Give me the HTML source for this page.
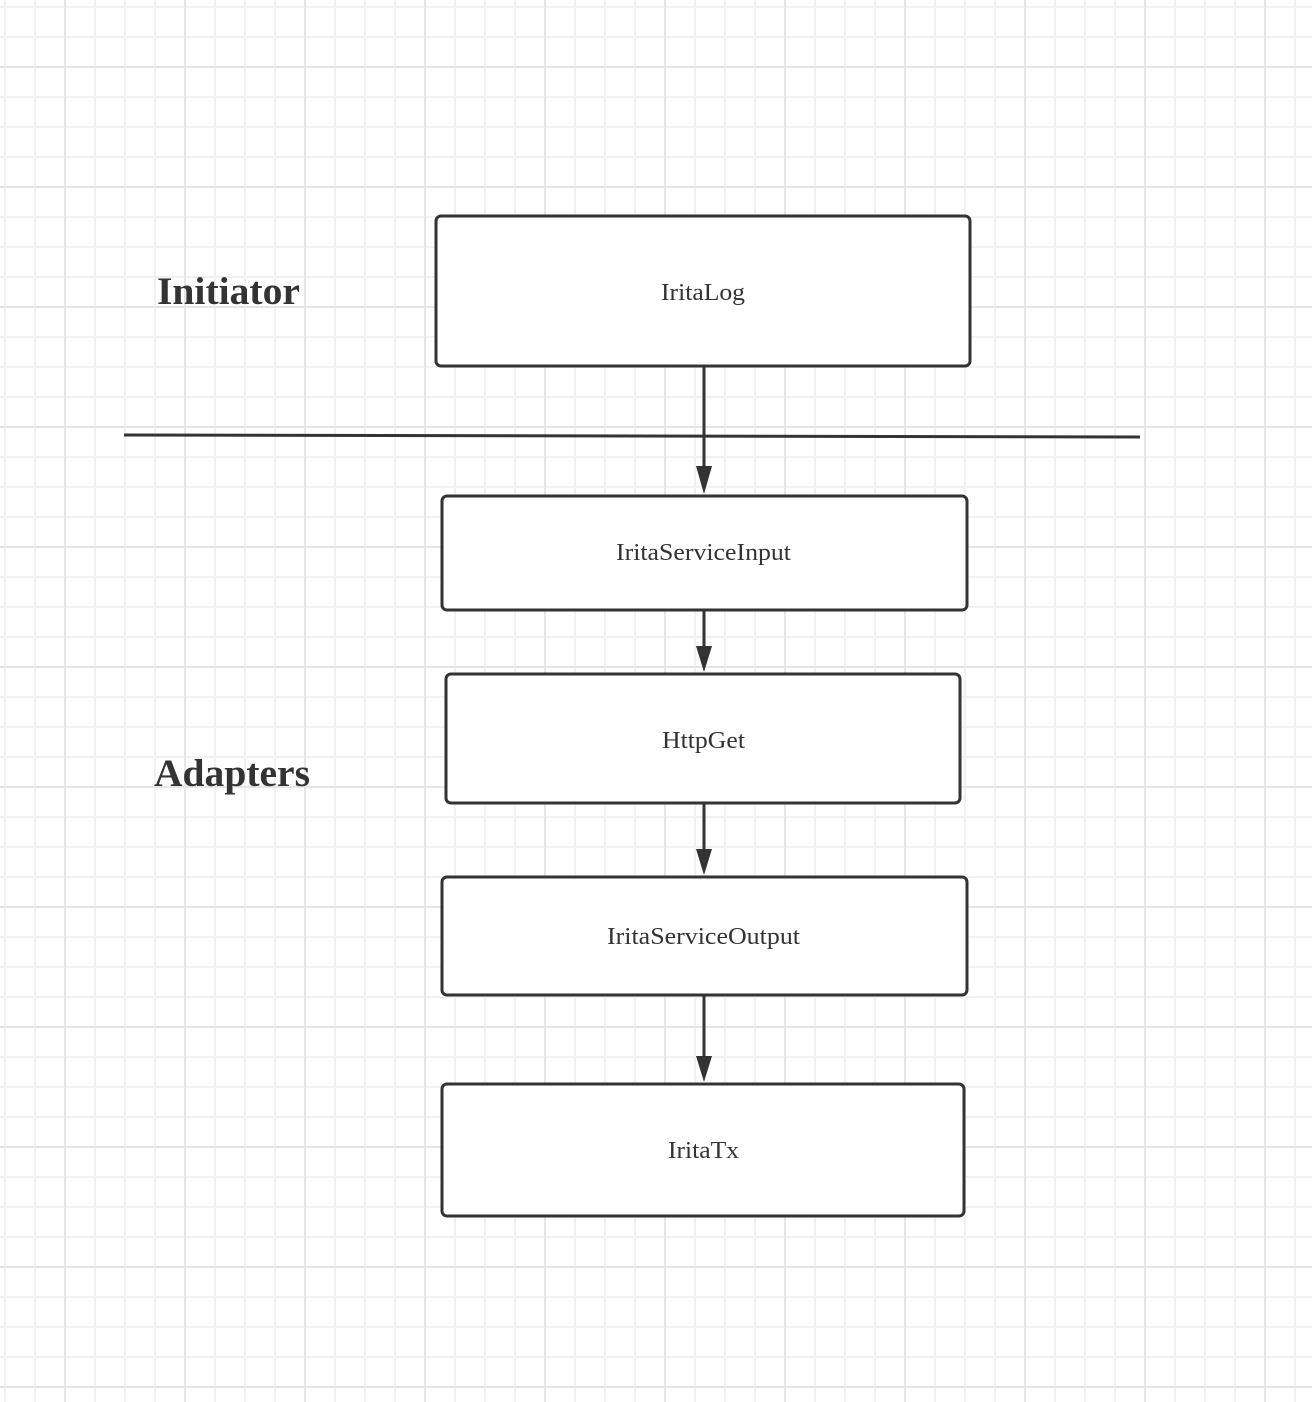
<!DOCTYPE html>
<html><head><style>
html,body{margin:0;padding:0;background:#fff}
body{width:1312px;height:1402px;overflow:hidden;position:relative;
background-image:
linear-gradient(to right,#e6e6e6 2px,transparent 2px),
linear-gradient(to bottom,#e6e6e6 2px,transparent 2px),
linear-gradient(to right,#f1f1f1 2px,transparent 2px),
linear-gradient(to bottom,#f1f1f1 2px,transparent 2px);
background-size:120px 120px,120px 120px,30px 30px,30px 30px;
background-position:64px 0,0 66px,4px 0,0 6px;}
svg{position:absolute;left:0;top:0}
</style></head><body>
<svg width="1312" height="1402" xmlns="http://www.w3.org/2000/svg">
<g fill="#fff" stroke="#333" stroke-width="3">
<rect x="436" y="216" width="534" height="150" rx="5"/>
<rect x="442" y="496" width="525" height="114" rx="5"/>
<rect x="446" y="674" width="514" height="129" rx="5"/>
<rect x="442" y="877" width="525" height="118" rx="5"/>
<rect x="442" y="1084" width="522" height="132" rx="5"/>
</g>
<line x1="124" y1="435" x2="1140" y2="437" stroke="#333" stroke-width="3"/>
<g stroke="#333" stroke-width="3">
<line x1="704" y1="367" x2="704" y2="470"/>
<line x1="704" y1="611" x2="704" y2="648"/>
<line x1="704" y1="804" x2="704" y2="851"/>
<line x1="704" y1="996" x2="704" y2="1058"/>
</g>
<g fill="#333">
<polygon points="696,466 712,466 704,494"/>
<polygon points="696,646 712,646 704,672"/>
<polygon points="696,849 712,849 704,875"/>
<polygon points="696,1056 712,1056 704,1082"/>
</g>
<g font-family="Liberation Serif, serif" fill="#333" font-size="24">
<text x="661" y="300" textLength="84" lengthAdjust="spacingAndGlyphs">IritaLog</text>
<text x="616" y="560" textLength="175" lengthAdjust="spacingAndGlyphs">IritaServiceInput</text>
<text x="662" y="748" textLength="83" lengthAdjust="spacingAndGlyphs">HttpGet</text>
<text x="607" y="944" textLength="193" lengthAdjust="spacingAndGlyphs">IritaServiceOutput</text>
<text x="668" y="1158" textLength="71" lengthAdjust="spacingAndGlyphs">IritaTx</text>
</g>
<g font-family="Liberation Serif, serif" fill="#333" font-weight="bold" font-size="39">
<text x="157" y="304" textLength="143" lengthAdjust="spacingAndGlyphs">Initiator</text>
<text x="154" y="786" textLength="156" lengthAdjust="spacingAndGlyphs">Adapters</text>
</g>
</svg>
</body></html>
